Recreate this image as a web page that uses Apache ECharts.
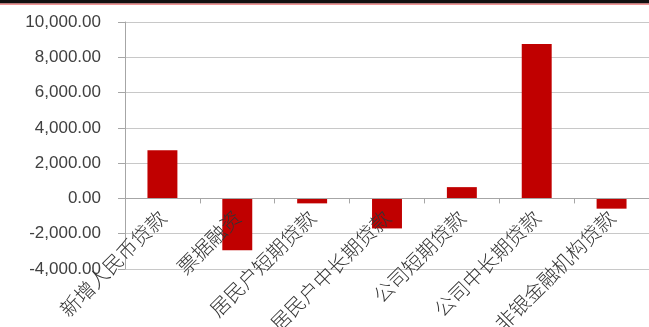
<!DOCTYPE html>
<html>
<head>
<meta charset="utf-8">
<script src="https://cdn.jsdelivr.net/npm/echarts@6/dist/echarts.min.js"></script>
<style>
html,body{margin:0;padding:0;background:#fff;}
#c{width:649px;height:327px;}
</style>
</head>
<body>
<div id="c"></div>
<script>
var categories = ['新增人民币贷款','票据融资','居民户短期贷款','居民户中长期贷款','公司短期贷款','公司中长期贷款','非银金融机构贷款'];
var values = [2730, -2940, -280, -1700, 640, 8760, -580];
var yTicks = {min: -4000, max: 10000, interval: 2000};

var chart = echarts.init(document.getElementById('c'), null, {renderer: 'canvas'});
chart.setOption({
  animation: false,
  backgroundColor: '#ffffff',
  graphic: [
    {type: 'rect', left: 0, top: 0, shape: {width: 649, height: 3.5}, style: {fill: '#111111'}, silent: true},
    {type: 'rect', left: 0, top: 3.5, shape: {width: 649, height: 1.2}, style: {fill: '#e87070'}, silent: true}
  ],
  grid: {left: 125, right: 0, top: 22, bottom: 58, containLabel: false, outerBoundsMode: 'none'},
  xAxis: {
    type: 'category',
    data: categories,
    z: 5,
    axisLine: {onZero: true, lineStyle: {color: '#a6a6a6', width: 1}},
    axisTick: {show: true, length: 5, lineStyle: {color: '#a6a6a6'}},
    axisLabel: {
      rotate: 45,
      interval: 0,
      hideOverlap: false,
      margin: -55,
      color: '#333333',
      fontSize: 20,
      fontWeight: 300,
      fontFamily: '"Noto Sans CJK SC"'
    }
  },
  yAxis: {
    type: 'value',
    min: yTicks.min,
    max: yTicks.max,
    interval: yTicks.interval,
    axisLine: {show: true, lineStyle: {color: '#a6a6a6'}},
    axisTick: {show: true, length: 7, lineStyle: {color: '#a6a6a6'}},
    splitLine: {lineStyle: {color: '#c8c8c8', width: 1}},
    axisLabel: {
      margin: 24,
      color: '#404040',
      fontSize: 17,
      fontFamily: '"Liberation Sans"',
      formatter: function (v) {
        return v.toLocaleString('en-US', {minimumFractionDigits: 2, maximumFractionDigits: 2});
      }
    }
  },
  series: [{
    type: 'bar',
    data: values,
    barWidth: '40%',
    z: 1,
    itemStyle: {color: '#c00000'}
  }]
});
</script>
</body>
</html>
